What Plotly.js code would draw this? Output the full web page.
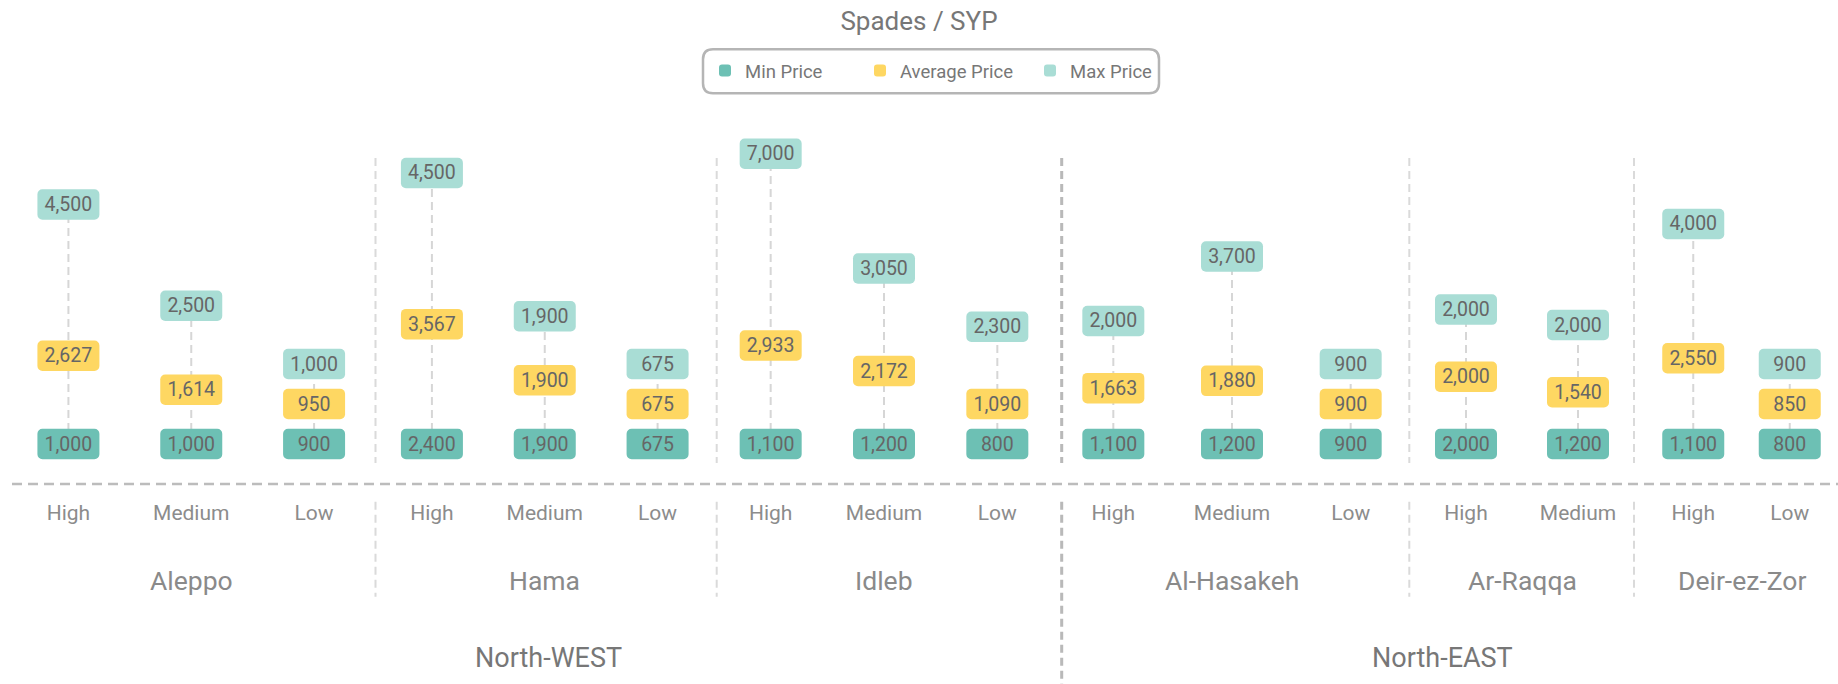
<!DOCTYPE html>
<html>
<head>
<meta charset="utf-8">
<script src="https://cdn.plot.ly/plotly-3.0.1.min.js"></script>
<style>
  html, body { margin: 0; padding: 0; background: #ffffff; }
  #chart { width: 1838px; height: 684px; }
</style>
</head>
<body>
<div id="chart"></div>
<script>
// ---------------- data ----------------
const superRegions = ['North-WEST', 'North-EAST'];
const regions = ['Aleppo', 'Hama', 'Idleb', 'Al-Hasakeh', 'Ar-Raqqa', 'Deir-ez-Zor'];
const regionOf = ['Aleppo', 'Aleppo', 'Aleppo', 'Hama', 'Hama', 'Hama', 'Idleb', 'Idleb', 'Idleb',
                  'Al-Hasakeh', 'Al-Hasakeh', 'Al-Hasakeh', 'Ar-Raqqa', 'Ar-Raqqa', 'Deir-ez-Zor', 'Deir-ez-Zor'];
const levels = ['High', 'Medium', 'Low', 'High', 'Medium', 'Low', 'High', 'Medium', 'Low',
                'High', 'Medium', 'Low', 'High', 'Medium', 'High', 'Low'];
const minPrice = [1000, 1000, 900, 2400, 1900, 675, 1100, 1200, 800, 1100, 1200, 900, 2000, 1200, 1100, 800];
const avgPrice = [2627, 1614, 950, 3567, 1900, 675, 2933, 2172, 1090, 1663, 1880, 900, 2000, 1540, 2550, 850];
const maxPrice = [4500, 2500, 1000, 4500, 1900, 675, 7000, 3050, 2300, 2000, 3700, 900, 2000, 2000, 4000, 900];
const seriesNames = ['Min Price', 'Average Price', 'Max Price'];
const chartTitle = 'Spades / SYP';

// ---------------- layout / style ----------------
const W = 1838, H = 684;
const PLOT_TOP = 138, PLOT_BOTTOM = 484;
const PLOT_H = PLOT_BOTTOM - PLOT_TOP;
const Y_RANGE = [-1190, 9107];
const UPP = (Y_RANGE[1] - Y_RANGE[0]) / PLOT_H;     // data units per pixel
const BOX_W = 62, BOX_H = 30.5, LABEL_SEP = 40;
const FONT = 'Roboto, "Noto Sans", sans-serif';
const COLORS = ['#6dc0b4', '#fed762', '#a9ddd5'];
const LEGEND_W = [110, 125, 90];
const regionDomainsPx = [[7, 375.5], [375.5, 714], [714, 1054], [1054, 1410], [1410, 1634], [1645, 1838]];
const lightDividersPx = [375.5, 716.7, 1409.3, 1634];
const superDividerPx = 1061.7;
const superCentersPx = [548, 1442];

const p2y = p => (PLOT_BOTTOM - p) / PLOT_H;   // page pixel row -> paper y
const fmt = v => v.toLocaleString('en-US');

// label rows: Min pinned on the base row, Average and Max stacked (Average + Max),
// kept at least LABEL_SEP px apart and inside the plot area
const hb = BOX_H * UPP, sep = LABEL_SEP * UPP;
const topLimit = Y_RANGE[1] - hb / 2 - 0.5 * UPP;
const minPos = minPrice.map(() => 0);
const avgPos = avgPrice.map(v => Math.max(v, sep));
const maxPos = maxPrice.map((v, i) => Math.min(topLimit, Math.max(avgPos[i] + v, avgPos[i] + sep)));

const seriesVals = [minPrice, avgPrice, maxPrice];
const seriesPos = [minPos, avgPos, maxPos];

const traces = [];
const shapes = [];
const annotations = [];
const layout = {
  width: W, height: H,
  margin: { l: 0, r: 0, t: PLOT_TOP, b: H - PLOT_BOTTOM, pad: 0 },
  paper_bgcolor: '#ffffff', plot_bgcolor: '#ffffff',
  barmode: 'overlay',
  showlegend: true,
  font: { family: FONT, color: '#777777' },
  title: { text: chartTitle, x: 0.5, xanchor: 'center', xref: 'paper',
           y: 1 - 21 / H, yref: 'container', yanchor: 'middle',
           font: { family: FONT, size: 26, color: '#777777' } },
  legend: { orientation: 'h', x: 705 / W, xanchor: 'left', y: p2y(71), yanchor: 'middle',
            font: { family: FONT, size: 18.5, color: '#777777' }, bgcolor: 'rgba(0,0,0,0)',
            borderwidth: 0, traceorder: 'normal' },
  yaxis: { domain: [0, 1], range: Y_RANGE, visible: false, fixedrange: true, showgrid: false, zeroline: false }
};

regions.forEach((reg, r) => {
  const idx = regionOf.map((g, i) => (g === reg ? i : -1)).filter(i => i >= 0);
  const n = idx.length;
  const ax = r === 0 ? '' : String(r + 1);
  const xs = idx.map(i => levels[i]);
  const dom = regionDomainsPx[r];
  const ppc = (dom[1] - dom[0]) / n;
  const bw = BOX_W / ppc;

  layout['xaxis' + ax] = {
    domain: [dom[0] / W, dom[1] / W], anchor: 'y', type: 'category',
    categoryorder: 'array', categoryarray: xs, range: [-0.5, n - 0.5], fixedrange: true,
    showgrid: false, zeroline: false, showline: false, ticks: '',
    tickfont: { family: FONT, size: 21, color: '#8c8c8c' }, ticklabelstandoff: 14
  };

  // dashed connector from min row to max label (behind the labels)
  idx.forEach(i => {
    shapes.push({ type: 'line', layer: 'below', xref: 'x' + ax, yref: 'y',
      x0: levels[i], x1: levels[i], y0: minPos[i], y1: maxPos[i],
      line: { color: '#d6d6d6', width: 2, dash: '8px,5px' } });
  });

  seriesNames.forEach((name, s) => {
    traces.push({
      type: 'bar', name: name, legendgroup: name, showlegend: r === 0, legendwidth: LEGEND_W[s],
      xaxis: 'x' + ax, yaxis: 'y',
      x: xs,
      y: idx.map(() => hb),
      base: idx.map(i => seriesPos[s][i] - hb / 2),
      width: bw,
      text: idx.map(i => fmt(seriesVals[s][i])),
      texttemplate: '%{text}', textposition: 'inside', insidetextanchor: 'middle',
      textangle: 0, constraintext: 'none',
      textfont: { family: FONT, size: 19.5, color: '#666666' },
      marker: { color: COLORS[s], cornerradius: 5, line: { width: 0 } },
      hovertemplate: reg + ' / %{x}<br>' + name + ': %{text}<extra></extra>'
    });
  });

  annotations.push({ xref: 'x' + ax, yref: 'paper', x: (n - 1) / 2, y: p2y(580),
    text: reg, showarrow: false, xanchor: 'center', yanchor: 'middle',
    font: { family: FONT, size: 26.5, color: '#8a8a8a' } });
});

superRegions.forEach((s, k) => {
  annotations.push({ xref: 'paper', yref: 'paper', x: superCentersPx[k] / W, y: p2y(658),
    text: s, showarrow: false, xanchor: 'center', yanchor: 'middle',
    font: { family: FONT, size: 27, color: '#777777' } });
});

// region dividers
lightDividersPx.forEach(px => {
  [[158, 463], [501.7, 596.7]].forEach(seg => {
    shapes.push({ type: 'line', xref: 'paper', yref: 'paper', x0: px / W, x1: px / W,
      y0: p2y(seg[0]), y1: p2y(seg[1]), line: { color: '#dadada', width: 2, dash: '8px,5px' } });
  });
});
[[158, 463], [501.7, 684]].forEach(seg => {
  shapes.push({ type: 'line', xref: 'paper', yref: 'paper', x0: superDividerPx / W, x1: superDividerPx / W,
    y0: p2y(seg[0]), y1: p2y(seg[1]), line: { color: '#b9b9b9', width: 3, dash: '8px,5px' } });
});
// dashed baseline
shapes.push({ type: 'line', xref: 'paper', yref: 'paper', x0: 12 / W, x1: 1, y0: 0, y1: 0,
  line: { color: '#bcbcbc', width: 2.5, dash: '10px,6px' } });
// rounded legend frame
const lw = 456 / 2, lh = 44 / 2, rr = 10;
shapes.push({ type: 'path', xref: 'paper', yref: 'paper', xsizemode: 'pixel', ysizemode: 'pixel',
  xanchor: 931 / W, yanchor: p2y(71.3),
  path: `M ${-lw + rr},${-lh} H ${lw - rr} Q ${lw},${-lh} ${lw},${-lh + rr} V ${lh - rr} Q ${lw},${lh} ${lw - rr},${lh} ` +
        `H ${-lw + rr} Q ${-lw},${lh} ${-lw},${lh - rr} V ${-lh + rr} Q ${-lw},${-lh} ${-lw + rr},${-lh} Z`,
  line: { color: '#b5b5b5', width: 2.5 }, fillcolor: 'rgba(0,0,0,0)' });

layout.shapes = shapes;
layout.annotations = annotations;

Plotly.newPlot('chart', traces, layout, { displayModeBar: false, staticPlot: true });
</script>
</body>
</html>
